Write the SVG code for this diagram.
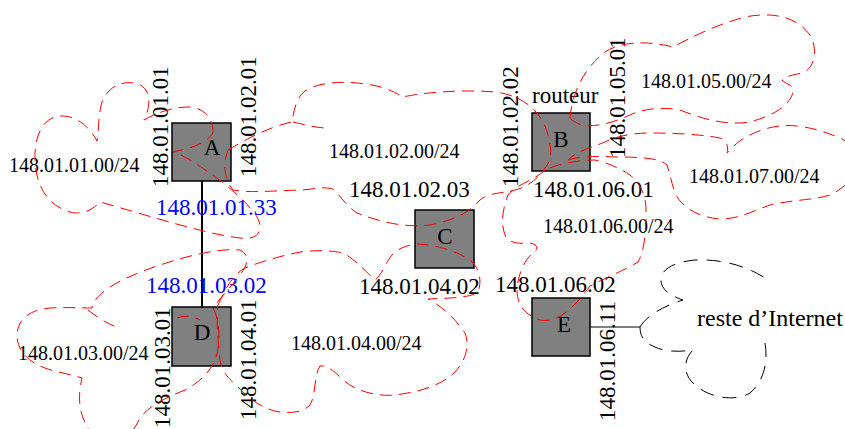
<svg xmlns="http://www.w3.org/2000/svg" width="845" height="429" viewBox="0 0 845 429">
  <style>
    text { font-family: "Liberation Serif", "Times New Roman", serif; fill: #000; }
    .addr { font-size: 23px; }
    .net { font-size: 20px; }
    .blue { fill: #0000ff; }
    .box { fill: #808080; stroke: #000; stroke-width: 1.5; }
    .letter { font-size: 23px; text-anchor: middle; }
    .link { stroke: #000; fill: none; }
    .subnet { fill: none; stroke: #ff0000; stroke-width: 1; stroke-dasharray: 12 7; }
    .outside { fill: none; stroke: #000; stroke-width: 1; stroke-dasharray: 14 9; }
  </style>

  <!-- links between routers -->
  <g id="connectors">
    <line class="link" x1="202" y1="181" x2="202" y2="307" stroke-width="2"/>
    <line class="link" x1="590" y1="327" x2="640" y2="327" stroke-width="1"/>
  </g>

  <!-- routers -->
  <g id="node-A">
    <rect class="box" x="172" y="123" width="59" height="58"/>
    <text class="letter" x="212" y="155">A</text>
  </g>
  <g id="node-B">
    <rect class="box" x="532" y="113" width="58" height="58"/>
    <text class="letter" x="561" y="147">B</text>
  </g>
  <g id="node-C">
    <rect class="box" x="415" y="210" width="59" height="58"/>
    <text class="letter" x="445" y="244">C</text>
  </g>
  <g id="node-D">
    <rect class="box" x="172" y="307" width="59" height="59"/>
    <text class="letter" x="202" y="340">D</text>
  </g>
  <g id="node-E">
    <rect class="box" x="532" y="298" width="58" height="58"/>
    <text class="letter" x="564" y="332">E</text>
  </g>

  <!-- interface addresses -->
  <g id="addresses">
    <text class="addr" transform="translate(168,187) rotate(-90)">148.01.01.01</text>
    <text class="addr" transform="translate(256,177) rotate(-90)">148.01.02.01</text>
    <text class="addr" transform="translate(518,187) rotate(-90)">148.01.02.02</text>
    <text class="addr" transform="translate(625,158) rotate(-90)">148.01.05.01</text>
    <text class="addr" transform="translate(170,428) rotate(-90)">148.01.03.01</text>
    <text class="addr" transform="translate(256,420) rotate(-90)">148.01.04.01</text>
    <text class="addr" transform="translate(615,421) rotate(-90)">148.01.06.11</text>
    <text class="addr blue" x="156" y="215">148.01.01.33</text>
    <text class="addr blue" x="146" y="293">148.01.03.02</text>
    <text class="addr" x="349" y="197">148.01.02.03</text>
    <text class="addr" x="359" y="294">148.01.04.02</text>
    <text class="addr" x="533" y="197">148.01.06.01</text>
    <text class="addr" x="495" y="292">148.01.06.02</text>
    <text class="addr" x="532" y="103">routeur</text>
    <text class="addr" x="697" y="326" style="font-size:24px">reste d’Internet</text>
  </g>

  <!-- network labels -->
  <g id="networks">
    <text class="net" x="9" y="172">148.01.01.00/24</text>
    <text class="net" x="329" y="158">148.01.02.00/24</text>
    <text class="net" x="641" y="88">148.01.05.00/24</text>
    <text class="net" x="689" y="183">148.01.07.00/24</text>
    <text class="net" x="543" y="233">148.01.06.00/24</text>
    <text class="net" x="18" y="360">148.01.03.00/24</text>
    <text class="net" x="291" y="350">148.01.04.00/24</text>
  </g>

  <!-- subnet outlines -->
  <g id="subnets">
    <path id="net-01" class="subnet" d="M 213,133 C 214,116 200,106 186,107 C 170,108 156,113 144,120 C 152,104 150,88 138,84 C 122,79 107,88 102,102 C 98,115 99,130 97,141 C 90,128 78,116 62,116 C 42,116 34,138 35,160 C 36,184 46,205 70,212 C 85,216 95,207 100,202 C 150,216 205,234 240,238 C 262,241 264,226 255,214 C 243,198 222,180 190,160 C 183,156 178,153 173,152 C 190,148 205,145 213,133 Z"/>
    <path id="net-02" class="subnet" d="M 228,150 C 245,140 268,127 292,122 C 294,110 296,98 305,91 C 318,82 345,80 372,85 C 388,88 398,94 403,97 C 420,93 460,89 495,92 C 512,94 522,100 530,106 C 540,114 548,128 550,145 C 552,155 550,162 545,168 C 538,178 530,186 515,190 C 500,194 490,192 480,200 C 470,212 455,220 430,225 C 405,228 380,222 357,213 C 345,205 340,195 333,189 C 322,186 310,190 300,190 C 270,191 248,193 233,190 C 225,180 222,165 228,150 Z M 293,122 C 305,125 318,128 327,128"/>
    <path id="net-03" class="subnet" d="M 213,308 C 220,320 221,345 215,360 C 210,372 200,382 185,390 C 165,398 150,405 140,418 C 135,428 130,436 122,442 C 108,448 92,440 88,428 C 78,412 78,395 82,378 C 70,374 55,372 45,368 C 28,362 17,350 17,335 C 18,318 30,310 50,308 C 65,307 80,308 92,308 C 95,290 130,275 160,265 C 190,255 220,248 240,250 C 250,255 248,265 240,275 C 230,288 220,298 213,308 Z M 88,310 C 98,318 108,324 117,327 M 177,318 C 185,315 192,316 200,320"/>
    <path id="net-04" class="subnet" d="M 218,305 C 225,290 232,275 245,268 C 260,262 280,256 300,252 C 315,250 335,250 345,254 C 358,262 366,272 375,280 C 382,275 386,262 392,255 C 398,248 408,245 418,244 C 435,245 455,250 470,260 C 480,268 482,282 478,292 C 470,298 450,298 428,299 C 440,305 455,318 465,333 C 470,345 466,360 455,372 C 442,385 420,392 395,395 C 375,397 352,390 340,377 C 333,370 326,365 320,366 C 314,375 316,395 310,405 C 302,413 290,413 280,412 C 265,410 250,400 238,387 C 228,378 222,372 220,360 C 218,340 216,320 218,305 Z"/>
    <path id="net-05" class="subnet" d="M 570,118 C 572,95 582,70 605,52 C 620,42 645,40 673,47 C 690,38 715,25 745,17 C 770,12 795,15 810,35 C 818,50 815,65 805,72 C 795,75 785,76 782,80 C 785,84 795,85 793,92 C 790,105 775,115 750,122 C 725,126 700,118 680,110 C 660,106 640,110 630,115 C 615,122 600,126 585,126 C 578,124 572,121 570,118 Z"/>
    <path id="net-06" class="subnet" d="M 545,170 C 535,180 515,185 508,195 C 502,210 501,225 505,235 C 508,243 518,244 530,243 C 536,244 540,248 534,252 C 526,258 518,272 517,290 C 517,305 525,315 540,320 C 550,322 558,318 565,313 C 575,305 582,297 590,286 C 605,278 625,270 638,262 C 645,250 646,230 646,210 C 646,195 640,183 630,175 C 620,168 605,162 595,160 C 580,160 560,163 545,170 Z"/>
    <path id="net-07" class="subnet" d="M 568,160 C 580,156 600,156 615,157 C 640,157 660,158 667,165 C 672,180 673,195 682,203 C 690,212 705,218 720,219 C 740,219 755,210 770,205 C 790,200 815,200 830,195 C 845,188 858,175 858,162 C 858,150 848,140 835,136 C 815,128 795,124 780,126 C 760,128 742,138 735,145 C 730,150 728,153 727,153 C 729,146 726,140 720,138 C 700,134 670,133 650,133 C 630,133 615,137 605,142 C 590,148 575,152 568,160 Z"/>
    <path id="internet" class="outside" d="M 640,327 C 645,318 660,307 683,300 C 668,295 660,288 661,278 C 663,268 675,262 695,260 C 720,259 745,265 765,278 M 765,343 C 768,360 765,380 750,393 C 735,402 710,398 695,385 C 683,375 683,360 693,350 C 680,352 665,352 655,347 C 645,343 640,337 640,327"/>
  </g>
</svg>
